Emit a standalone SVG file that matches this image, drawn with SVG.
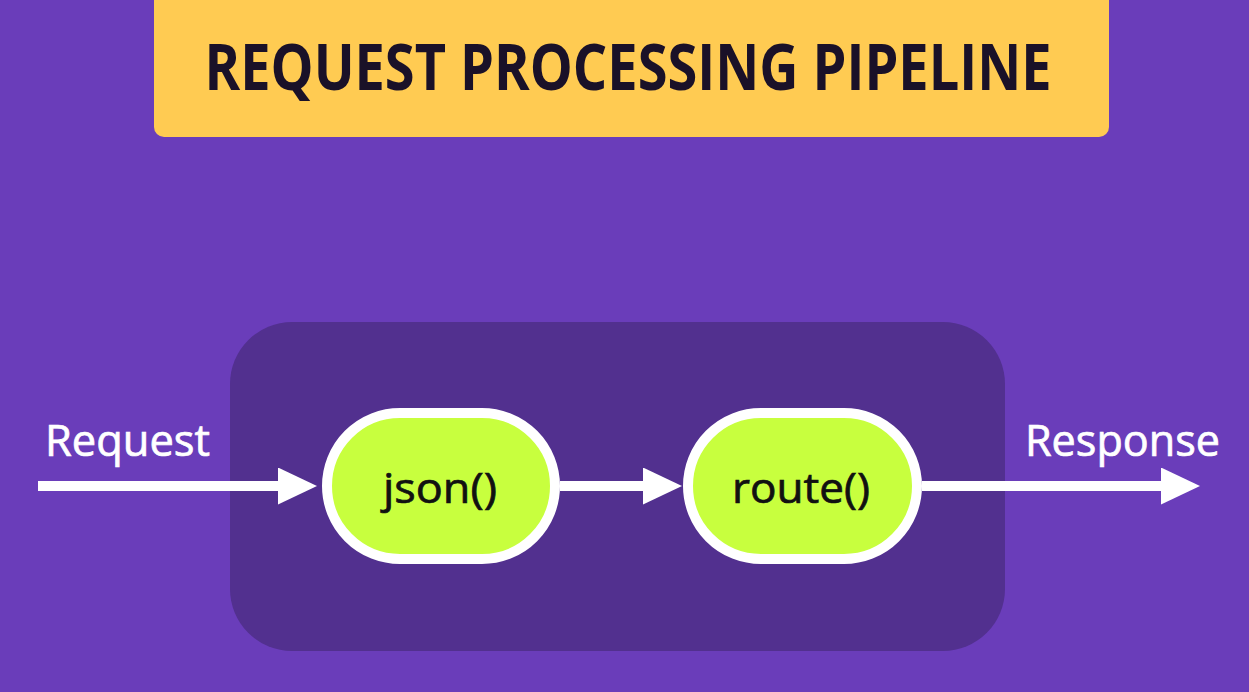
<svg xmlns="http://www.w3.org/2000/svg" width="1249" height="692" viewBox="0 0 1249 692">
<style>
.lbl{font-family:"Open Sans","Noto Sans","Liberation Sans",sans-serif;fill:#ffffff;stroke:#ffffff;stroke-width:0.7;font-size:43px;font-weight:400}
.fn{font-family:"Open Sans","Noto Sans","Liberation Sans",sans-serif;fill:#111111;stroke:#111111;stroke-width:0.7;font-size:42px;font-weight:400;text-anchor:middle}
.node{fill:#C8FF3E;stroke:#ffffff;stroke-width:10}
.edge{stroke:#ffffff;stroke-width:10;fill:none}
</style>
<defs>
<marker id="ah" markerUnits="userSpaceOnUse" markerWidth="40" markerHeight="38" refX="1" refY="18.5" orient="auto">
<path d="M0,0 L39,18.5 L0,37 Z" fill="#ffffff"/>
</marker>
</defs>
<rect x="0" y="0" width="1249" height="692" fill="#6A3DBA"/>
<g id="title">
<rect x="154" y="-12" width="955" height="149" rx="10" fill="#FFCB52"/>
<text x="628" y="90" text-anchor="middle" font-family="'Open Sans','Noto Sans','Liberation Sans',sans-serif" font-weight="700" font-size="64" fill="#1A1128" textLength="847" lengthAdjust="spacingAndGlyphs">REQUEST PROCESSING PIPELINE</text>
</g>
<g id="container">
<rect x="230" y="322" width="775" height="329" rx="62" fill="#52308F"/>
</g>
<g id="connectors">
<line class="edge" x1="38" y1="486" x2="279" y2="486" marker-end="url(#ah)"/>
<line class="edge" x1="560" y1="486" x2="644" y2="486" marker-end="url(#ah)"/>
<line class="edge" x1="922" y1="486" x2="1162" y2="486" marker-end="url(#ah)"/>
</g>
<g id="request-label"><text class="lbl" x="45" y="456" textLength="165" lengthAdjust="spacingAndGlyphs">Request</text></g>
<g id="response-label"><text class="lbl" x="1025" y="456" textLength="195" lengthAdjust="spacingAndGlyphs">Response</text></g>
<g id="json">
<rect class="node" x="327" y="413" width="228" height="146" rx="73"/>
<text class="fn" x="440" y="503" textLength="114" lengthAdjust="spacingAndGlyphs">json()</text>
</g>
<g id="route">
<rect class="node" x="688" y="413" width="229" height="146" rx="73"/>
<text class="fn" x="801" y="503" textLength="138" lengthAdjust="spacingAndGlyphs">route()</text>
</g>
</svg>
